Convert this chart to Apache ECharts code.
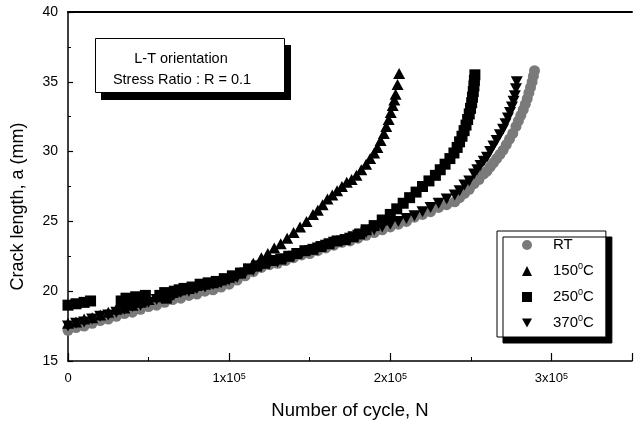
<!DOCTYPE html>
<html>
<head>
<meta charset="utf-8">
<script src="https://cdn.jsdelivr.net/npm/echarts@6/dist/echarts.min.js"></script>
<style>html,body{margin:0;padding:0;background:#fff}#c{width:635px;height:425px}</style>
</head>
<body>
<div id="c"></div>
<script>
// N in thousands of cycles, a in mm
const seriesNames = ['RT', '150°C', '250°C', '370°C'];
const xTicks = [0, 100, 200, 300];
const yTicks = [15, 20, 25, 30, 35, 40];

const rtData = [[0,17.2],[5,17.4],[10,17.5],[15,17.7],[20,17.9],[25,18.0],[30,18.2],[35,18.4],[40,18.5],[45,18.7],[50,18.9],[55,19.0],[60,19.2],[65,19.4],[70,19.5],[75,19.7],[80,19.8],[85,20.0],[90,20.1],[95,20.3],[100,20.5],[105,20.8],[110,21.1],[115,21.4],[120,21.7],[125,21.9],[130,22.0],[135,22.2],[140,22.4],[145,22.6],[150,22.7],[155,22.9],[160,23.1],[165,23.3],[170,23.5],[175,23.6],[180,23.8],[185,24.0],[190,24.2],[195,24.4],[200,24.6],[205,24.8],[210,25.0],[215,25.3],[220,25.5],[225,25.7],[230,26.0],[235,26.2],[240,26.4],[243,26.7],[246,27.0],[249,27.3],[252,27.7],[255,28.0],[258,28.4],[260,28.6],[262,28.9],[264,29.2],[266,29.5],[268,29.8],[270,30.1],[272,30.5],[274,30.9],[276,31.3],[278,31.8],[279.5,32.2],[281,32.6],[282.5,33.0],[283.8,33.4],[285,33.8],[286,34.2],[287,34.6],[288,35.0],[288.8,35.4],[289.5,35.8]];

const t150Data = [[0,17.7],[5,17.8],[10,18.0],[15,18.1],[20,18.3],[25,18.5],[30,18.7],[35,18.8],[40,19.0],[45,19.2],[50,19.4],[55,19.6],[60,19.8],[65,19.9],[70,20.1],[75,20.2],[80,20.4],[85,20.5],[90,20.6],[95,20.8],[100,21.0],[105,21.3],[110,21.6],[115,22.0],[120,22.4],[124,22.7],[128,23.1],[132,23.4],[136,23.8],[140,24.2],[144,24.6],[148,25.0],[152,25.5],[155,25.8],[158,26.2],[161,26.6],[164,26.9],[167,27.2],[170,27.5],[173,27.8],[176,28.0],[179,28.3],[182,28.7],[185,29.1],[187.5,29.5],[190,29.9],[192,30.3],[194,30.8],[196,31.3],[197.5,31.8],[199,32.3],[200.3,32.8],[201.5,33.3],[202.5,33.7],[203.3,34.1],[204.5,34.8],[205.5,35.6]];

const t250Data = [[0,19.0],[5,19.1],[10,19.2],[14,19.3],[33,19.3],[34,19.1],[36,19.5],[39,19.4],[40,19.2],[42,19.6],[45,19.5],[46,19.3],[48,19.7],[57,19.7],[60,19.9],[61,19.5],[63,19.8],[66,20.0],[69,20.1],[72,20.2],[77,20.3],[82,20.5],[87,20.6],[92,20.7],[97,20.9],[102,21.1],[107,21.3],[112,21.6],[117,21.8],[122,22.0],[127,22.2],[132,22.3],[137,22.5],[142,22.7],[147,22.9],[152,23.0],[157,23.2],[162,23.4],[167,23.6],[172,23.7],[177,23.9],[181,24.1],[185,24.4],[190,24.7],[195,25.1],[200,25.5],[204,25.9],[208,26.3],[212,26.7],[216,27.1],[220,27.5],[224,27.9],[228,28.3],[231,28.7],[234,29.1],[237,29.5],[239.5,29.9],[241.5,30.3],[243,30.7],[244.5,31.1],[245.8,31.5],[247,31.9],[248,32.3],[249,32.7],[249.8,33.1],[250.5,33.5],[251,33.9],[251.5,34.3],[251.9,34.7],[252.2,35.1],[252.5,35.5]];

const t370Data = [[0,17.5],[5,17.7],[10,17.8],[15,18.0],[20,18.2],[25,18.3],[30,18.5],[35,18.7],[40,18.9],[45,19.0],[50,19.2],[55,19.4],[60,19.6],[65,19.7],[70,19.9],[75,20.0],[80,20.2],[85,20.3],[90,20.5],[95,20.6],[100,20.8],[105,21.0],[110,21.3],[115,21.5],[120,21.8],[125,22.0],[130,22.1],[135,22.3],[140,22.5],[145,22.7],[150,22.9],[155,23.1],[160,23.3],[165,23.5],[170,23.6],[175,23.8],[180,24.0],[185,24.2],[190,24.4],[195,24.6],[200,24.8],[205,25.0],[210,25.2],[215,25.4],[220,25.7],[225,26.0],[230,26.3],[235,26.6],[240,26.9],[243,27.2],[246,27.6],[249,27.9],[252,28.4],[254,28.7],[256,29.0],[258,29.3],[260,29.6],[262,30.0],[264,30.4],[266,30.8],[268,31.2],[270,31.6],[271.5,32.0],[273,32.4],[274.3,32.8],[275.5,33.2],[276.5,33.6],[277.3,34.0],[278,34.5],[278.5,35.0]];

const FONT = 'Liberation Sans, Arial, sans-serif';
const downTri = 'path://M0,0L10,0L5,9Z';

const chart = echarts.init(document.getElementById('c'), null, {renderer: 'canvas'});

function xLabel(v) {
  if (v === 0) return '0';
  if (xTicks.indexOf(v) >= 0) return (v / 100) + 'x10{sup|5}';
  return '';
}
function legendLabel(name) {
  const m = name.match(/^(\d+)°C$/);
  if (m) return m[1] + '{sup|0}C';
  return name;
}

const sym = {
  'RT': {symbol: 'circle', size: 11, color: '#7a7a7a', data: rtData},
  '150°C': {symbol: 'triangle', size: [12, 11], color: '#000', data: t150Data},
  '250°C': {symbol: 'rect', size: 11, color: '#000', data: t250Data},
  '370°C': {symbol: downTri, size: [12, 11], color: '#000', data: t370Data}
};
const drawOrder = ['RT', '370°C', '250°C', '150°C'];

chart.setOption({
  animation: false,
  backgroundColor: '#fff',
  textStyle: {fontFamily: FONT, color: '#000'},
  grid: {left: 68, right: 0, top: 12, bottom: 61},
  xAxis: [
    {
      type: 'value', min: 0, max: 350, interval: 100, position: 'bottom',
      axisLine: {show: true, onZero: false, lineStyle: {color: '#000', width: 1.5}},
      axisTick: {show: true, inside: true, length: 8, lineStyle: {color: '#000', width: 1.2}},
      axisLabel: {
        formatter: xLabel, margin: 11, fontSize: 13, color: '#000', fontFamily: FONT,
        rich: {sup: {fontSize: 9, verticalAlign: 'top', lineHeight: 10, color: '#000', fontFamily: FONT}}
      },
      splitLine: {show: false},
      name: 'Number of cycle, N', nameLocation: 'middle', nameGap: 40,
      nameTextStyle: {fontSize: 18.5, color: '#000', fontFamily: FONT}
    },
    {
      type: 'value', min: 0, max: 350, interval: 50, position: 'bottom',
      axisLine: {show: false}, axisLabel: {show: false}, splitLine: {show: false},
      axisTick: {show: true, inside: true, length: 4, lineStyle: {color: '#000', width: 1}}
    },
    {
      type: 'value', min: 0, max: 350, position: 'top',
      axisLine: {show: true, onZero: false, lineStyle: {color: '#000', width: 2}},
      axisTick: {show: false}, axisLabel: {show: false}, splitLine: {show: false}
    }
  ],
  yAxis: {
    type: 'value', min: yTicks[0], max: yTicks[yTicks.length - 1], interval: 5,
    axisLine: {show: true, onZero: false, lineStyle: {color: '#000', width: 1.5}},
    axisTick: {show: true, inside: true, length: 5, lineStyle: {color: '#000', width: 1.2}},
    minorTick: {show: true, splitNumber: 2, length: 3, lineStyle: {color: '#000', width: 1}},
    axisLabel: {fontSize: 14, margin: 10, color: '#000', fontFamily: FONT},
    splitLine: {show: false},
    name: 'Crack length, a (mm)', nameLocation: 'middle', nameGap: 41,
    nameTextStyle: {fontSize: 18, color: '#000', fontFamily: FONT, padding: [0, 40, 0, 0]}
  },
  legend: {
    orient: 'vertical', left: 497, top: 231,
    padding: [5, 12, 5, 25], itemGap: 8, itemWidth: 10, itemHeight: 10,
    borderColor: '#000', borderWidth: 1, backgroundColor: '#fff',
    shadowColor: '#000', shadowOffsetX: 6, shadowOffsetY: 6, shadowBlur: 0,
    data: seriesNames,
    formatter: legendLabel,
    textStyle: {
      fontSize: 15, lineHeight: 18, color: '#000', fontFamily: FONT, padding: [0, 0, 0, 16],
      rich: {sup: {fontSize: 9, verticalAlign: 'top', lineHeight: 10, color: '#000', fontFamily: FONT}}
    }
  },
  graphic: [
    {type: 'rect', z: 10, shape: {x: 101, y: 45, width: 190, height: 55}, style: {fill: '#000'}},
    {type: 'rect', z: 11, shape: {x: 95.5, y: 38.5, width: 189, height: 54}, style: {fill: '#fff', stroke: '#000', lineWidth: 1}},
    {type: 'text', z: 12, style: {text: 'L-T orientation', x: 181, y: 59, textAlign: 'center', textVerticalAlign: 'middle', verticalAlign: 'middle', font: '14.5px ' + FONT, fill: '#000'}},
    {type: 'text', z: 12, style: {text: 'Stress Ratio : R = 0.1', x: 182, y: 80, textAlign: 'center', textVerticalAlign: 'middle', verticalAlign: 'middle', font: '14.5px ' + FONT, fill: '#000'}}
  ],
  series: drawOrder.map(function (n) {
    const s = sym[n];
    return {
      type: 'scatter', name: n, xAxisIndex: 0, yAxisIndex: 0,
      symbol: s.symbol, symbolSize: s.size,
      itemStyle: {color: s.color, opacity: 1},
      data: s.data, silent: true
    };
  })
});
</script>
</body>
</html>
